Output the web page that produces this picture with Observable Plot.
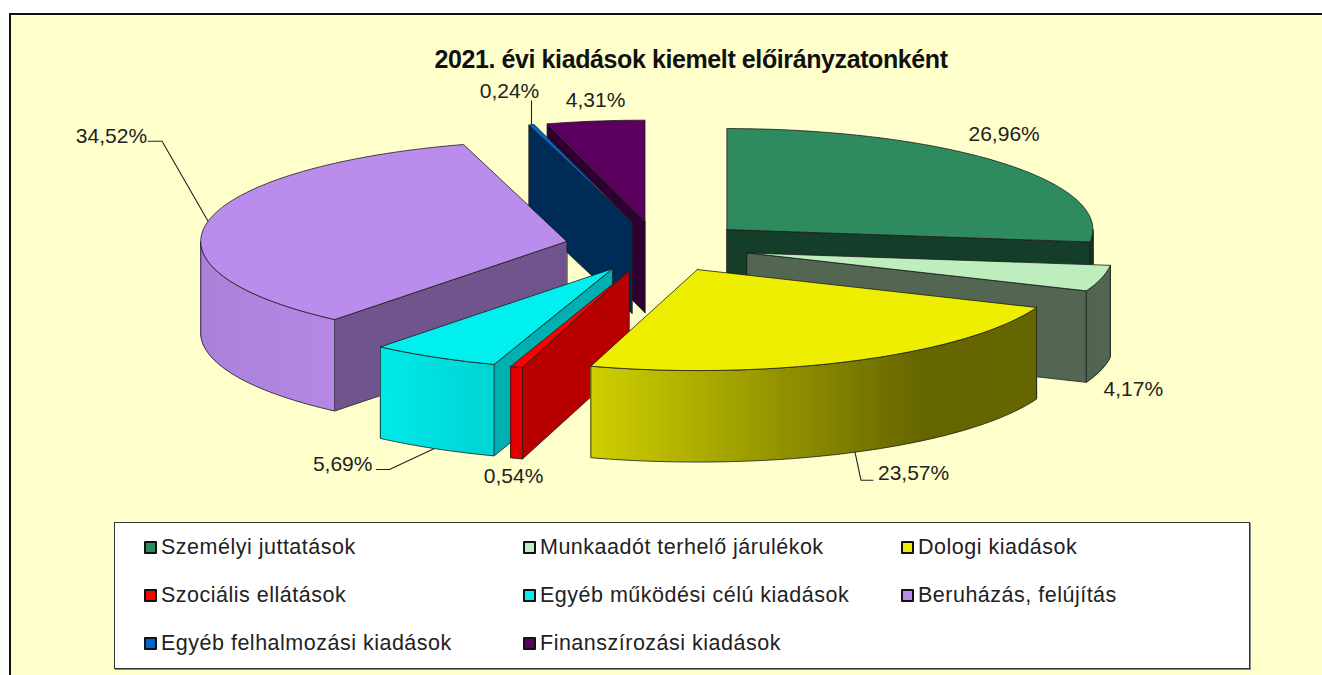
<!DOCTYPE html>
<html lang="hu">
<head>
<meta charset="utf-8">
<script src="https://cdn.jsdelivr.net/npm/d3@7"></script>
<script src="https://cdn.jsdelivr.net/npm/@observablehq/plot@0.6"></script>
<style>
  html, body { margin: 0; padding: 0; background: #fff; width: 1322px; height: 675px; overflow: hidden; font-family: "Liberation Sans", Arial, sans-serif; }
  #frame { position: absolute; left: 9px; top: 13px; width: 1313px; height: 662px; box-sizing: border-box; background: #FFFFCC; border-left: 2px solid #111; border-top: 2px solid #111; }
  #title { position: absolute; left: 291px; top: 45px; width: 800px; text-align: center; font-weight: bold; font-size: 25px; line-height: 28px; color: #111; letter-spacing: -0.4px; }
  #chart { position: absolute; left: 0; top: 75px; }
  #legend { position: absolute; left: 114px; top: 522px; width: 1136px; height: 147px; box-sizing: border-box; background: #fff; border: 1px solid #333; box-shadow: 1px 1px 0 #888; }
  .item { position: absolute; display: flex; align-items: center; height: 24px; font-size: 21.5px; color: #222; white-space: nowrap; letter-spacing: 0.5px; }
  .swatch { width: 9px; height: 9px; border: 2px solid #111; margin-right: 4px; border-radius: 1px; flex: none; }
</style>
</head>
<body>
<div id="frame"></div>
<div id="title"></div>
<div id="chart"></div>
<div id="legend"></div>
<script>
const chartTitle = "2021. évi kiadások kiemelt előirányzatonként";
const categories = ["Személyi juttatások", "Munkaadót terhelő járulékok", "Dologi kiadások", "Szociális ellátások", "Egyéb működési célú kiadások", "Beruházás, felújítás", "Egyéb felhalmozási kiadások", "Finanszírozási kiadások"];
const shares = [26.96, 4.17, 23.57, 0.54, 5.69, 34.52, 0.24, 4.31];
const palette = ["#2E8B60", "#BEEEBE", "#EEEE00", "#FF0000", "#00F0F0", "#BA8CEC", "#0066CC", "#5C0060"];
const cutShade = [0.44, 0.43, 0.43, 0.72, 0.73, 0.6, 0.42, 0.5];
const paintOrder = [7, 6, 0, 5, 1, 4, 3, 2];

// Pie projection (page pixels): an ellipse tilted towards the viewer, exploded slices.
const pie = {cx: 657, cy: 246, rx: 366, ry: 101, depth: 91.5, explode: 0.253};
const svgTop = 75, svgHeight = 445;
const rad = Math.PI / 180;

// Label placement relative to each slice's rim point at its middle angle.
const labelLayout = [
  {dx: 3, dy: -28, anchor: "middle"},
  {dx: 32, dy: 19, anchor: "middle", front: true},
  {dx: 23, dy: 21, anchor: "start", front: true, leader: [[6, 28], [18, 28]]},
  {dx: -3, dy: 18, anchor: "middle", front: true},
  {dx: -62, dy: 16, anchor: "end", front: true, leader: [[-45, 21], [-58, 21]]},
  {dx: -61, dy: -85, anchor: "end", leader: [[-46, -80], [-60, -80]]},
  {dx: -22, dy: -34, anchor: "middle", leader: [[0, -24]]},
  {dx: 0, dy: -21, anchor: "middle"}
];

const wallShade = d3.scaleLinear().domain([-1, -0.63, -0.29, 0.6, 1]).range([0.92, 0.97, 0.87, 0.43, 0.43]);
const shade = (color, k) => { const c = d3.rgb(color); return d3.rgb(c.r * k, c.g * k, c.b * k).formatHex(); };

// Slice angles, clockwise from 12 o'clock
let running = 0;
const slices = shares.map((v, i) => {
  const a0 = running * 3.6; running += v;
  const a1 = running * 3.6, mid = (a0 + a1) / 2;
  return {
    i, v, a0, a1, mid,
    cx: pie.cx + pie.explode * pie.rx * Math.sin(mid * rad),
    cy: pie.cy - pie.explode * pie.ry * Math.cos(mid * rad)
  };
});
const rimX = (s, a) => s.cx + pie.rx * Math.sin(a * rad);
const rimY = (s, a) => s.cy - pie.ry * Math.cos(a * rad);
const arcAngles = (a0, a1) => {
  const n = Math.max(1, Math.ceil(a1 - a0));
  return d3.range(n + 1).map(k => a0 + (a1 - a0) * k / n);
};

const outline = "#1c1c1c";
const faces = [];
let faceId = 0;
function addFace(points, fill, stroke, strokeWidth) {
  const z = faceId++;
  for (const [x, y] of points) faces.push({x, y, z, fill, stroke, strokeWidth});
}
for (const i of paintOrder) {
  const s = slices[i], base = palette[i];
  // the one radial cut that faces the viewer
  const cutAngle = Math.sin(s.a0 * rad) < -0.01 ? s.a0 : (Math.sin(s.a1 * rad) > 0.01 ? s.a1 : null);
  if (cutAngle !== null) {
    const X = rimX(s, cutAngle), Y = rimY(s, cutAngle);
    addFace([[s.cx, s.cy], [X, Y], [X, Y + pie.depth], [s.cx, s.cy + pie.depth]], shade(base, cutShade[i]), outline, 0.8);
  }
  // the curved outer wall, visible on the near half only
  const w0 = Math.max(s.a0, 90), w1 = Math.min(s.a1, 270);
  if (w1 > w0) {
    const angles = arcAngles(w0, w1);
    d3.pairs(angles).forEach(([p, q]) => {
      const k = wallShade(Math.sin((p + q) / 2 * rad)), f = shade(base, k);
      // strips are inset a little and stroked in their own colour, so neighbours overlap without seams
      addFace([[rimX(s, p), rimY(s, p) + 0.6], [rimX(s, q), rimY(s, q) + 0.6], [rimX(s, q), rimY(s, q) + pie.depth - 0.6], [rimX(s, p), rimY(s, p) + pie.depth - 0.6]], f, f, 1.2);
    });
    const top = angles.map(a => [rimX(s, a), rimY(s, a)]);
    const bottom = angles.map(a => [rimX(s, a), rimY(s, a) + pie.depth]).reverse();
    addFace([...top, ...bottom, top[0]], "none", outline, 0.8);
  }
  // the top surface
  addFace([[s.cx, s.cy], ...arcAngles(s.a0, s.a1).map(a => [rimX(s, a), rimY(s, a)]), [s.cx, s.cy]], base, outline, 0.8);
}

const fmt = v => v.toFixed(2).replace(".", ",") + "%";
const labels = slices.map(s => {
  const l = labelLayout[s.i];
  const ax = rimX(s, s.mid), ay = rimY(s, s.mid) + (l.front ? pie.depth : 0);
  return {x: ax + l.dx, y: ay + l.dy, text: fmt(s.v), anchor: l.anchor, ax, ay, leader: l.leader, i: s.i};
});
const leaders = labels.filter(l => l.leader).flatMap(l =>
  [[0, 0], ...l.leader].map(([dx, dy]) => ({x: l.ax + dx, y: l.ay + dy, z: l.i})));

const chart = Plot.plot({
  width: 1322,
  height: svgHeight,
  margin: 0,
  style: {background: "transparent", display: "block", fontFamily: '"Liberation Sans", Arial, sans-serif'},
  x: {domain: [0, 1322], range: [0, 1322], axis: null},
  y: {domain: [svgTop, svgTop + svgHeight], range: [0, svgHeight], axis: null},
  marks: [
    Plot.line(leaders, {x: "x", y: "y", z: "z", stroke: "#222", strokeWidth: 1.1, strokeLinejoin: "miter"}),
    Plot.line(faces, {
      x: "x", y: "y", z: "z",
      fill: {value: "fill", scale: null},
      stroke: {value: "stroke", scale: null},
      strokeWidth: "strokeWidth",
      curve: "linear-closed",
      strokeLinejoin: "miter"
    }),
    ...["start", "middle", "end"].map(a =>
      Plot.text(labels.filter(l => l.anchor === a), {x: "x", y: "y", text: "text", textAnchor: a, fontSize: 21, fill: "#222"}))
  ]
});
document.getElementById("chart").append(chart);
document.getElementById("title").textContent = chartTitle;

const legendCols = [29, 408, 786], legendRows = [12, 60, 108];
const legend = document.getElementById("legend");
categories.forEach((name, i) => {
  const item = document.createElement("div");
  item.className = "item";
  item.style.left = legendCols[i % 3] + "px";
  item.style.top = legendRows[Math.floor(i / 3)] + "px";
  const sw = document.createElement("span");
  sw.className = "swatch";
  sw.style.background = palette[i];
  item.append(sw, document.createTextNode(name));
  legend.append(item);
});
</script>
</body>
</html>
